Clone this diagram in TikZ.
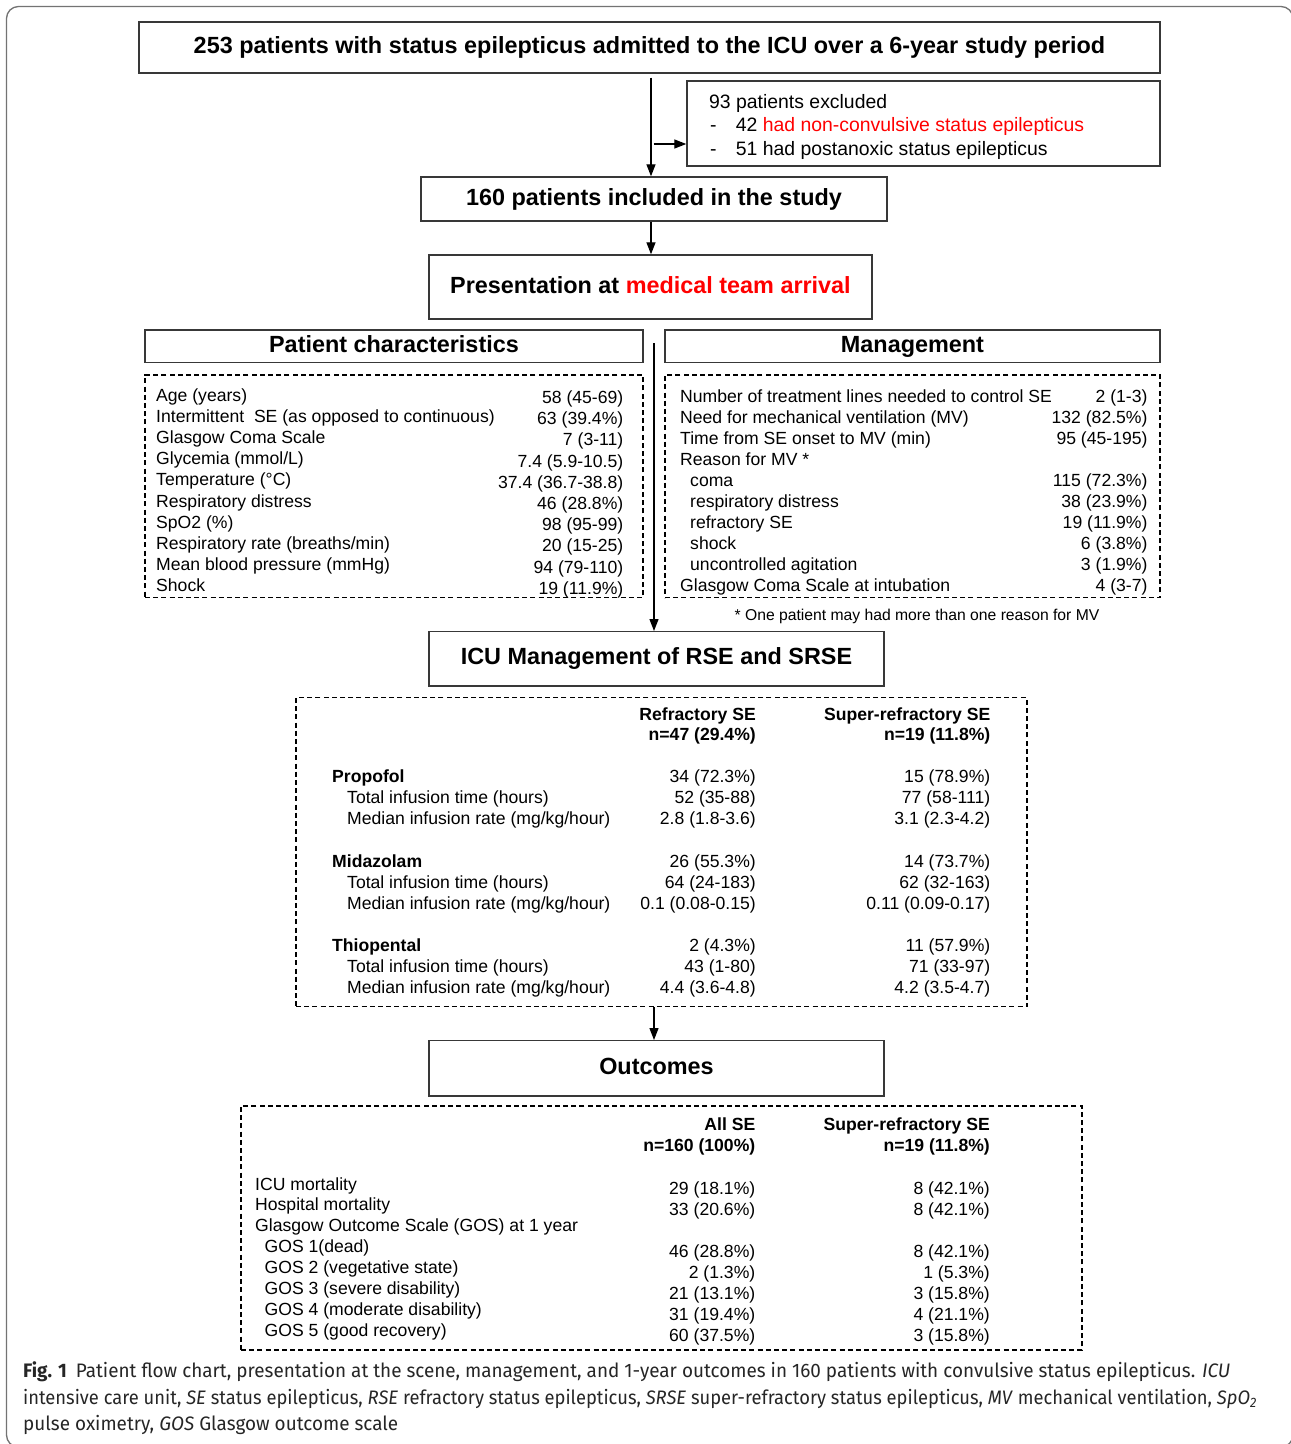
\documentclass[tikz,border=0pt]{standalone}
\usepackage{graphicx}
\usepackage{fontspec}
\setmainfont{Liberation Sans}
\newfontfamily\capfont[FakeStretch=0.97]{Fira Sans}
\usetikzlibrary{arrows.meta}
\begin{document}
\begin{tikzpicture}[x=1pt,y=-1pt,
  box/.style={draw=black!78, line width=1.4pt, inner sep=0pt, text height=17pt, text depth=5pt, font=\bfseries\fontsize{23.4}{28}\selectfont},
  dbox/.style={draw=black, line width=1.2pt, dash pattern=on 5pt off 3.2pt, inner sep=0pt},
  lbl/.style={anchor=base west, inner sep=0pt, font=\fontsize{17.6}{21}\selectfont},
  val/.style={anchor=base east, inner sep=0pt, font=\fontsize{17.6}{21}\selectfont},
  blbl/.style={val, font=\bfseries\fontsize{17.6}{21}\selectfont},
  exl/.style={lbl, font=\fontsize{19.4}{23}\selectfont},
  caption/.style={anchor=base west, inner sep=0pt, text=black!85, font=\capfont\fontsize{19.5}{26}\selectfont},
  arr/.style={line width=1.3pt, -{Triangle[length=12pt,width=9pt]}}]
\useasboundingbox (0,0) rectangle (1291,1444);
\fill[white] (0,0) rectangle (1291,1444);
\draw[black!55, line width=1.3pt, rounded corners=12pt] (6.5,6.5) rectangle (1293,1447);

% solid boxes
\node[box, minimum width=1021pt, minimum height=51pt] (top) at (649.5,47.5) {253 patients with status epilepticus admitted to the ICU over a 6-year study period};
\node[box, minimum width=473pt, minimum height=85pt] (excl) at (923.5,123.5) {};
\node[box, minimum width=466pt, minimum height=44pt] (inc) at (654,199) {160 patients included in the study};
\node[box, minimum width=443pt, minimum height=64pt] (pres) at (650.5,287) {Presentation at \textcolor{red}{medical team arrival}};
\node[box, minimum width=498pt, minimum height=32.5pt] (pch) at (394,346.25) {Patient characteristics};
\node[box, minimum width=495pt, minimum height=32.5pt] (mgh) at (912.5,346.25) {Management};
\node[dbox, minimum width=498pt, minimum height=222.5pt] (pcd) at (394,486.25) {};
\node[dbox, minimum width=495pt, minimum height=222.5pt] (mgd) at (912.5,486.25) {};
\node[box, minimum width=455pt, minimum height=54.3pt] (icu) at (656.5,658.85) {ICU Management of RSE and SRSE};
\node[dbox, minimum width=731pt, minimum height=309pt] (icud) at (661.5,852.2) {};
\node[box, minimum width=455pt, minimum height=55.3pt] (out) at (656.5,1068.35) {Outcomes};
\node[dbox, minimum width=841pt, minimum height=244pt] (outd) at (661.5,1228) {};

% arrows
\coordinate (a1s) at (651,77.5);
\draw[arr] (a1s) -- (a1s |- inc.north);
\coordinate (a2s) at (653.5,144);
\draw[arr] (a2s) -- (a2s -| excl.west);
\draw[arr] (inc.south -| a1s) -- (pres.north -| a1s);
\coordinate (a3s) at (654,343);
\draw[arr] (a3s) -- (a3s |- icu.north);
\draw[arr] (icud.south -| a3s) -- (out.north -| a3s);

% exclusion text
\node[exl] (ex1) at (709,108.3) {93 patients excluded};
\node[exl] (ex2d) at (710,131) {-};
\node[exl] (ex2) at (735.7,131) {42 \textcolor{red}{had non-convulsive status epilepticus}};
\node[exl] (ex3d) at (710,155) {-};
\node[exl] (ex3) at (735.7,155) {51 had postanoxic status epilepticus};

% patient characteristics
\foreach \t [count=\i] in {{Age (years)},{Intermittent\ \ SE (as opposed to continuous)},{Glasgow Coma Scale},{Glycemia (mmol/L)},{Temperature (°C)},{Respiratory distress},{SpO2 (\%)},{Respiratory rate (breaths/min)},{Mean blood pressure (mmHg)},{Shock}}
  \node[lbl] (pcl\i) at (156,{401+21.2*(\i-1)}) {\t};
\foreach \t [count=\i] in {{58 (45-69)},{63 (39.4\%)},{7 (3-11)},{7.4 (5.9-10.5)},{37.4 (36.7-38.8)},{46 (28.8\%)},{98 (95-99)},{20 (15-25)},{94 (79-110)},{19 (11.9\%)}}
  \node[val] (pcv\i) at (623.5,{403.5+21.2*(\i-1)}) {\t};

% management
\foreach \xx/\t [count=\i] in {680/{Number of treatment lines needed to control SE},680/{Need for mechanical ventilation (MV)},680/{Time from SE onset to MV (min)},680/{Reason for MV *},690/{coma},690/{respiratory distress},690/{refractory SE},690/{shock},690/{uncontrolled agitation},680/{Glasgow Coma Scale at intubation}}
  \node[lbl] (mgl\i) at (\xx,{402.3+21.05*(\i-1)}) {\t};
\foreach \r/\t in {1/{2 (1-3)},2/{132 (82.5\%)},3/{95 (45-195)},5/{115 (72.3\%)},6/{38 (23.9\%)},7/{19 (11.9\%)},8/{6 (3.8\%)},9/{3 (1.9\%)},10/{4 (3-7)}}
  \node[val] (mgv\r) at (1147.7,{402.3+21.05*(\r-1)}) {\t};
\node[anchor=base, inner sep=0pt, font=\fontsize{15.7}{19}\selectfont] (fn) at (917,620) {* One patient may had more than one reason for MV};

% ICU management table
\node[blbl] (h1a) at (756,720) {Refractory SE};
\node[blbl] (h1b) at (756,740.7) {n=47 (29.4\%)};
\node[blbl] (h2a) at (990.5,720) {Super-refractory SE};
\node[blbl] (h2b) at (990.5,740.7) {n=19 (11.8\%)};
\foreach \xx/\yy/\t/\va/\vb [count=\i] in {
  332/782.7/{\textbf{Propofol}}/{34 (72.3\%)}/{15 (78.9\%)},
  347/803.3/{Total infusion time (hours)}/{52 (35-88)}/{77 (58-111)},
  347/824.3/{Median infusion rate (mg/kg/hour)}/{2.8 (1.8-3.6)}/{3.1 (2.3-4.2)},
  332/867.3/{\textbf{Midazolam}}/{26 (55.3\%)}/{14 (73.7\%)},
  347/888.3/{Total infusion time (hours)}/{64 (24-183)}/{62 (32-163)},
  347/909.3/{Median infusion rate (mg/kg/hour)}/{0.1 (0.08-0.15)}/{0.11 (0.09-0.17)},
  332/951.7/{\textbf{Thiopental}}/{2 (4.3\%)}/{11 (57.9\%)},
  347/972.3/{Total infusion time (hours)}/{43 (1-80)}/{71 (33-97)},
  347/993.3/{Median infusion rate (mg/kg/hour)}/{4.4 (3.6-4.8)}/{4.2 (3.5-4.7)}}
  {\node[lbl] (il\i) at (\xx,\yy) {\t};
   \node[val] (iva\i) at (756,\yy) {\va};
   \node[val] (ivb\i) at (990.5,\yy) {\vb};}

% outcomes table
\node[blbl] (o1a) at (755.5,1130.7) {All SE};
\node[blbl] (o1b) at (755.5,1151.7) {n=160 (100\%)};
\node[blbl] (o2a) at (990,1130.7) {Super-refractory SE};
\node[blbl] (o2b) at (990,1151.7) {n=19 (11.8\%)};
\foreach \xx/\t [count=\i] in {255/{ICU mortality},255/{Hospital mortality},255/{Glasgow Outcome Scale (GOS) at 1 year},264.5/{GOS 1(dead)},264.5/{GOS 2 (vegetative state)},264.5/{GOS 3 (severe disability)},264.5/{GOS 4 (moderate disability)},264.5/{GOS 5 (good recovery)}}
  \node[lbl] (ol\i) at (\xx,{1190+20.9*(\i-1)}) {\t};
\foreach \r/\va/\vb in {1/{29 (18.1\%)}/{8 (42.1\%)},2/{33 (20.6\%)}/{8 (42.1\%)},4/{46 (28.8\%)}/{8 (42.1\%)},5/{2 (1.3\%)}/{1 (5.3\%)},6/{21 (13.1\%)}/{3 (15.8\%)},7/{31 (19.4\%)}/{4 (21.1\%)},8/{60 (37.5\%)}/{3 (15.8\%)}}
  {\node[val] (ova\r) at (755.5,{1194.7+20.9*(\r-1)}) {\va};
   \node[val] (ovb\r) at (990,{1194.7+20.9*(\r-1)}) {\vb};}

% caption
\node[caption] (cap1) at (23,1377.5) {\textbf{Fig. 1}\hspace{9pt}Patient flow chart, presentation at the scene, management, and 1-year outcomes in 160 patients with convulsive status epilepticus. \textit{ICU}};
\node[caption] (cap2) at (23,1404) {\scalebox{0.97}[1]{intensive care unit, \textit{SE} status epilepticus, \textit{RSE} refractory status epilepticus, \textit{SRSE} super-refractory status epilepticus, \textit{MV} mechanical ventilation, \textit{SpO\textsubscript{2}}}};
\node[caption] (cap3) at (23,1430.5) {pulse oximetry, \textit{GOS} Glasgow outcome scale};
\end{tikzpicture}
\end{document}
